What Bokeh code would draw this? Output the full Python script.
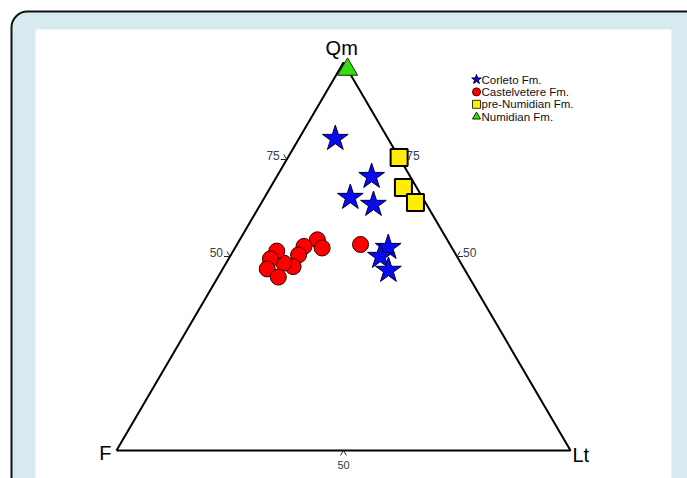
import math
from bokeh.plotting import figure
from bokeh.models import Range1d, BoxAnnotation, ColumnDataSource
from bokeh.core.properties import value
from bokeh.embed import file_html
from bokeh.resources import INLINE

# --- QFL-type ternary data (percent Qm / F / Lt) ---
corleto_qm = [80.4, 70.6, 65.2, 63.4, 52.3, 50.0, 46.4]
corleto_f = [11.6, 8.5, 15.9, 11.7, 14.0, 16.9, 16.9]
corleto_lt = [8.0, 20.9, 18.9, 24.9, 33.7, 33.1, 36.7]

castel_qm = [54.3, 52.2, 52.6, 50.4, 47.4, 48.3, 51.4, 49.4, 46.8, 44.7, 53.1]
castel_f = [28.6, 28.6, 32.4, 34.7, 37.4, 39.0, 39.0, 41.4, 43.4, 42.0, 19.7]
castel_lt = [17.1, 19.2, 15.0, 14.9, 15.2, 12.7, 9.6, 9.2, 9.8, 13.3, 27.2]

prenum_qm = [75.5, 67.8, 63.9]
prenum_f = [0.0, 2.9, 2.2]
prenum_lt = [24.5, 29.3, 33.9]

numid_qm = [98.2]
numid_f = [0.0]
numid_lt = [1.8]

series_names = ["Corleto Fm.", "Castelvetere Fm.", "pre-Numidian Fm.", "Numidian Fm."]
apex_labels = ["Qm", "F", "Lt"]
left_ticks = [50, 75]
right_ticks = [50, 75]
bottom_ticks = [50]

FONT = "Liberation Sans"

# Page geometry: triangle corners F, Lt on the baseline, Qm at the top.
X0_PX, BASE_PX, SIDE_PX, HEIGHT_PX = 116.0, 450.0, 454.0, 388.0
W, H = 687, 478


def px_x(px):
    return (px - X0_PX) / SIDE_PX


def px_y(py):
    return (BASE_PX - py) / HEIGHT_PX


def tern(qm, f, lt):
    """Ternary -> cartesian (F at (0,0), Lt at (1,0), Qm at (0.5,1))."""
    xs, ys = [], []
    for a, b, c in zip(qm, f, lt):
        t = a + b + c
        xs.append((c + a / 2.0) / t)
        ys.append(a / t)
    return xs, ys


p = figure(width=W, height=H, output_backend="svg", toolbar_location=None,
           x_range=Range1d(px_x(0), px_x(W)), y_range=Range1d(px_y(H), px_y(0)),
           min_border=0, outline_line_color=None,
           x_axis_location=None, y_axis_location=None)
p.grid.visible = False
p.background_fill_color = "white"
p.border_fill_color = "white"

# rounded light-blue panel and white drawing area
p.add_layout(BoxAnnotation(left=px_x(11), right=px_x(720), top=px_y(11), bottom=px_y(520),
                           fill_color="#d6eaf0", fill_alpha=1.0, line_color="#111111",
                           line_alpha=1.0, line_width=2, border_radius=16, level="underlay"))
p.add_layout(BoxAnnotation(left=px_x(35), right=px_x(671), top=px_y(29), bottom=px_y(520),
                           fill_color="white", fill_alpha=1.0, line_color=None,
                           level="underlay"))

# triangle frame
p.line([0, 1, 0.5, 0], [0, 0, 1, 0], line_color="black", line_width=2)

# apex labels
p.text([0.5 - 0.004], [1.0], text=[apex_labels[0]], text_font=value(FONT), text_font_size="20px",
       text_align="center", text_baseline="bottom", y_offset=-4, text_color="black")
p.text([0.0], [0.0], text=[apex_labels[1]], text_font=value(FONT), text_font_size="20px",
       text_align="right", text_baseline="middle", x_offset=-5, y_offset=2, text_color="black")
p.text([1.0], [0.0], text=[apex_labels[2]], text_font=value(FONT), text_font_size="20px",
       text_align="left", text_baseline="middle", x_offset=2, y_offset=4, text_color="black")

# tick hooks and labels
dx_px = 1.0 / SIDE_PX
dy_px = 1.0 / HEIGHT_PX
hx, hy = [], []
for t in left_ticks:
    q = t / 100.0
    x, y = q / 2.0, q
    hx.append([x - 3 * dx_px, x, x - 6 * dx_px])
    hy.append([y + 5 * dy_px, y, y])
for t in right_ticks:
    q = t / 100.0
    x, y = 1 - q / 2.0, q
    hx.append([x + 3 * dx_px, x, x + 6 * dx_px])
    hy.append([y + 5 * dy_px, y, y])
for t in bottom_ticks:
    x = 1 - t / 100.0
    hx.append([x - 3 * dx_px, x, x + 3 * dx_px])
    hy.append([-5 * dy_px, 0, -5 * dy_px])
p.multi_line(hx, hy, line_color="#222222", line_width=1)

p.text([q / 200.0 for q in left_ticks], [q / 100.0 for q in left_ticks],
       text=[str(t) for t in left_ticks], text_font=value(FONT), text_font_size="12px",
       text_align="right", text_baseline="middle", x_offset=-7, y_offset=-4, text_color="#33404d")
p.text([1 - q / 200.0 for q in right_ticks], [q / 100.0 for q in right_ticks],
       text=[str(t) for t in right_ticks], text_font=value(FONT), text_font_size="12px",
       text_align="left", text_baseline="middle", x_offset=6, y_offset=-4, text_color="#33404d")
p.text([1 - t / 100.0 for t in bottom_ticks], [0.0] * len(bottom_ticks),
       text=[str(t) for t in bottom_ticks], text_font=value(FONT), text_font_size="11px",
       text_align="center", text_baseline="middle", y_offset=14, text_color="#33404d")

# data points
cx, cy = tern(castel_qm, castel_f, castel_lt)
p.scatter(cx, cy, marker="circle", size=16, fill_color="#ff0000", line_color="#300000", line_width=1)

sx, sy = tern(corleto_qm, corleto_f, corleto_lt)
p.scatter(sx, sy, marker="star", size=27, fill_color="#0a0aee", line_color="#000030", line_width=1)

qx, qy = tern(prenum_qm, prenum_f, prenum_lt)
p.scatter(qx, qy, marker="square", size=17, fill_color="#ffee00", line_color="black", line_width=2)

nx, ny = tern(numid_qm, numid_f, numid_lt)
p.scatter(nx, ny, marker="triangle", size=20, fill_color="#33dd11", line_color="#103000", line_width=1)

# legend
leg_x = px_x(476)
leg_y = [px_y(79 + 12.4 * i) for i in range(4)]
leg_src = ColumnDataSource(dict(
    x=[leg_x] * 4, y=leg_y,
    marker=["star", "circle", "square", "triangle"],
    size=[10, 8, 8, 8],
    fill=["#0a0aee", "#ff0000", "#ffee00", "#33dd11"],
    line=["#000030", "#300000", "#333333", "#103000"],
))
p.scatter("x", "y", marker="marker", size="size", fill_color="fill", line_color="line",
          line_width=1, source=leg_src)
p.text([leg_x] * 4, leg_y, text=series_names, text_font=value(FONT), text_font_size="11.5px",
       text_align="left", text_baseline="middle", x_offset=5, text_color="#111111")

open("out.html", "w").write(file_html(p, INLINE))
